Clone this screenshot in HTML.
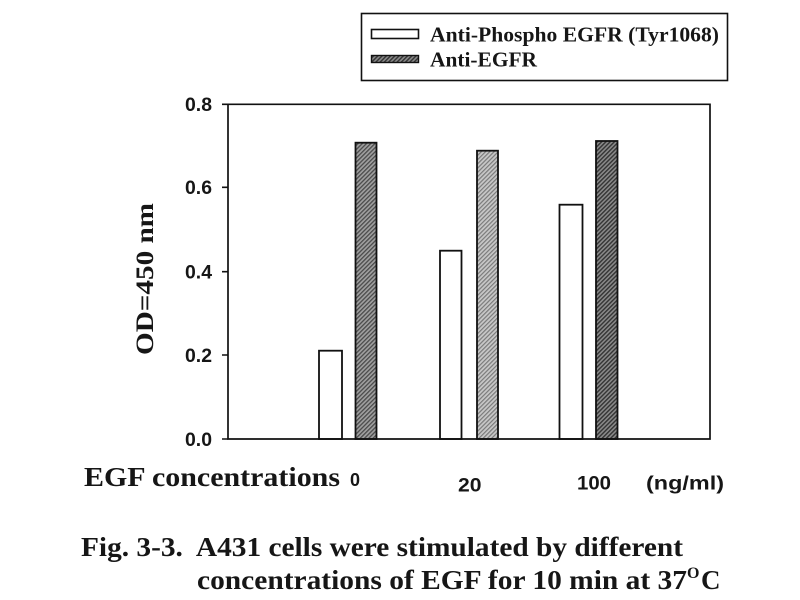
<!DOCTYPE html>
<html>
<head>
<meta charset="utf-8">
<style>
html,body{margin:0;padding:0;background:#fff;}
svg{display:block;}
.tm{font-family:"Liberation Serif",serif;font-weight:bold;fill:#161616;}
.ar{font-family:"Liberation Sans",sans-serif;font-weight:bold;fill:#161616;}
</style>
</head>
<body>
<svg width="800" height="600" viewBox="0 0 800 600" xmlns="http://www.w3.org/2000/svg">
<defs>
  <pattern id="h1" patternUnits="userSpaceOnUse" width="3" height="3" patternTransform="rotate(45)">
    <rect width="3" height="3" fill="#a0a0a0"/>
    <rect width="1.3" height="3" fill="#4a4a4a"/>
  </pattern>
  <pattern id="h2" patternUnits="userSpaceOnUse" width="3" height="3" patternTransform="rotate(45)">
    <rect width="3" height="3" fill="#c8c8c8"/>
    <rect width="1.2" height="3" fill="#7a7a7a"/>
  </pattern>
  <pattern id="h3" patternUnits="userSpaceOnUse" width="3" height="3" patternTransform="rotate(45)">
    <rect width="3" height="3" fill="#8a8a8a"/>
    <rect width="1.4" height="3" fill="#333"/>
  </pattern>
</defs>
<rect width="800" height="600" fill="#fff"/>

<!-- Legend -->
<rect x="361.5" y="13.5" width="366" height="67" fill="#fff" stroke="#111" stroke-width="1.6"/>
<rect x="371.5" y="29.5" width="47" height="9" fill="#fff" stroke="#111" stroke-width="1.6"/>
<rect x="371.5" y="55.5" width="47" height="7" fill="url(#h3)" stroke="#111" stroke-width="1.4"/>
<text class="tm" x="430" y="41.5" font-size="21" textLength="289" lengthAdjust="spacingAndGlyphs">Anti-Phospho EGFR (Tyr1068)</text>
<text class="tm" x="430" y="66.5" font-size="21" textLength="107" lengthAdjust="spacingAndGlyphs">Anti-EGFR</text>

<!-- Bars -->
<rect x="319" y="350.7" width="23" height="88.3" fill="#fff" stroke="#111" stroke-width="1.8"/>
<rect x="355.5" y="142.7" width="21" height="296.3" fill="url(#h1)" stroke="#111" stroke-width="1.8"/>
<rect x="440" y="250.7" width="21.5" height="188.3" fill="#fff" stroke="#111" stroke-width="1.8"/>
<rect x="477" y="150.7" width="21" height="288.3" fill="url(#h2)" stroke="#111" stroke-width="1.8"/>
<rect x="559.5" y="204.7" width="23" height="234.3" fill="#fff" stroke="#111" stroke-width="1.8"/>
<rect x="596" y="141" width="21.5" height="298" fill="url(#h3)" stroke="#111" stroke-width="1.8"/>

<!-- Axes frame -->
<path d="M228 104.3 H710 V439 H228 Z" fill="none" stroke="#111" stroke-width="1.7"/>
<!-- ticks -->
<path d="M222 104.3 H228 M222 187.3 H228 M222 271.7 H228 M222 355 H228 M222 439 H228" stroke="#111" stroke-width="1.6"/>

<!-- tick labels -->
<text class="ar" x="212" y="111" font-size="19" text-anchor="end" textLength="27" lengthAdjust="spacingAndGlyphs">0.8</text>
<text class="ar" x="212" y="194" font-size="19" text-anchor="end" textLength="27" lengthAdjust="spacingAndGlyphs">0.6</text>
<text class="ar" x="212" y="278.5" font-size="19" text-anchor="end" textLength="27" lengthAdjust="spacingAndGlyphs">0.4</text>
<text class="ar" x="212" y="362" font-size="19" text-anchor="end" textLength="27" lengthAdjust="spacingAndGlyphs">0.2</text>
<text class="ar" x="212" y="446" font-size="19" text-anchor="end" textLength="27" lengthAdjust="spacingAndGlyphs">0.0</text>

<!-- Y label -->
<text class="tm" transform="translate(153,279) rotate(-90)" x="0" y="0" font-size="25" text-anchor="middle" textLength="152" lengthAdjust="spacingAndGlyphs">OD=450 nm</text>

<!-- X labels -->
<text class="tm" x="84" y="486" font-size="27" textLength="256" lengthAdjust="spacingAndGlyphs">EGF concentrations</text>
<text class="ar" x="350" y="486" font-size="18">0</text>
<text class="ar" x="458" y="491.5" font-size="19" textLength="23.5" lengthAdjust="spacingAndGlyphs">20</text>
<text class="ar" x="577" y="489.5" font-size="19" textLength="34" lengthAdjust="spacingAndGlyphs">100</text>
<text class="ar" x="646" y="489.5" font-size="19" textLength="78" lengthAdjust="spacingAndGlyphs">(ng/ml)</text>

<!-- Caption -->
<text class="tm" x="81" y="556" font-size="27" textLength="602" lengthAdjust="spacingAndGlyphs" xml:space="preserve">Fig. 3-3.  A431 cells were stimulated by different</text>
<text class="tm" x="197" y="589" font-size="27" textLength="490" lengthAdjust="spacingAndGlyphs">concentrations of EGF for 10 min at 37</text>
<text class="tm" x="687" y="578" font-size="16">O</text>
<text class="tm" x="701" y="589" font-size="27">C</text>
</svg>
</body>
</html>
